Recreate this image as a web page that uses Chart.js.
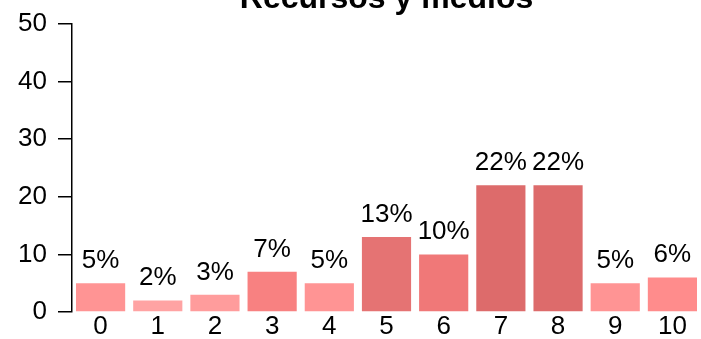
<!DOCTYPE html>
<html>
<head>
<meta charset="utf-8">
<script src="https://cdn.jsdelivr.net/npm/chart.js@4/dist/chart.umd.min.js"></script>
<style>
  html, body { margin: 0; padding: 0; background: #fff; }
  #wrap { width: 701px; height: 339px; }
</style>
</head>
<body>
<div id="wrap"><canvas id="chart" width="701" height="339"></canvas></div>
<script>
// ── Datos ────
const TITULO = 'Recursos y medios';
const categorias = ['0', '1', '2', '3', '4', '5', '6', '7', '8', '9', '10'];
const valores = [5, 2, 3, 7, 5, 13, 10, 22, 22, 5, 6];
const etiquetas = ['5%', '2%', '3%', '7%', '5%', '13%', '10%', '22%', '22%', '5%', '6%'];
const yTicks = [0, 10, 20, 30, 40, 50];

const COLORES = ['#FF9494', '#FFA3A3', '#FF9C9C', '#F88181', '#FF9494', '#E57373',
                 '#F07878', '#DD6B6B', '#DD6B6B', '#FF9494', '#FF8C8C'];

const FUENTE = "'Liberation Sans', Arial, sans-serif";
Chart.defaults.font.family = FUENTE;
Chart.defaults.color = '#000';

// ── Título (cortado arriba, centrado sobre el área) ────
const tituloPlugin = {
    id: 'tituloPlugin',
    afterDraw(chart) {
        const { ctx, chartArea } = chart;
        ctx.save();
        ctx.font = `bold 32px ${FUENTE}`;
        ctx.fillStyle = '#000';
        ctx.textAlign = 'center';
        ctx.textBaseline = 'alphabetic';
        ctx.fillText(TITULO, (chartArea.left + chartArea.right) / 2, 8);
        ctx.restore();
    }
};

// ── Etiquetas sobre las barras ────
const etiquetasPlugin = {
    id: 'etiquetasPlugin',
    afterDatasetsDraw(chart) {
        const { ctx } = chart;
        const meta = chart.getDatasetMeta(0);
        ctx.save();
        ctx.font = `26px ${FUENTE}`;
        ctx.fillStyle = '#000';
        ctx.textAlign = 'center';
        ctx.textBaseline = 'alphabetic';
        meta.data.forEach((bar, i) => {
            ctx.fillText(etiquetas[i], bar.x, bar.y - 15);
        });
        ctx.restore();
    }
};

new Chart(document.getElementById('chart'), {
    type: 'bar',
    data: {
        labels: categorias,
        datasets: [{
            data: valores,
            backgroundColor: COLORES,
            borderWidth: 0,
            barPercentage: 0.86,
            categoryPercentage: 1,
        }]
    },
    options: {
        responsive: false,
        animation: false,
        layout: { padding: { top: 20, right: 0, left: 0, bottom: 0 } },
        plugins: {
            legend: { display: false },
            title: { display: false },
            tooltip: { enabled: false }
        },
        scales: {
            x: {
                offset: true,
                grid: { display: false, drawTicks: false },
                border: { display: false },
                ticks: { font: { size: 26, lineHeight: 1 }, padding: 2, maxRotation: 0 },
                afterFit(scale) { scale.height = 27; }
            },
            y: {
                min: 0,
                max: 50,
                afterBuildTicks(scale) { scale.ticks = yTicks.map(v => ({ value: v })); },
                grid: { drawOnChartArea: false, drawTicks: true, tickLength: 14, color: '#000', lineWidth: 1.5 },
                border: { display: true, color: '#000', width: 1.5 },
                ticks: { font: { size: 26, lineHeight: 1 }, padding: 11 },
                afterFit(scale) { scale.width = 72; }
            }
        }
    },
    plugins: [tituloPlugin, etiquetasPlugin]
});
</script>
</body>
</html>
